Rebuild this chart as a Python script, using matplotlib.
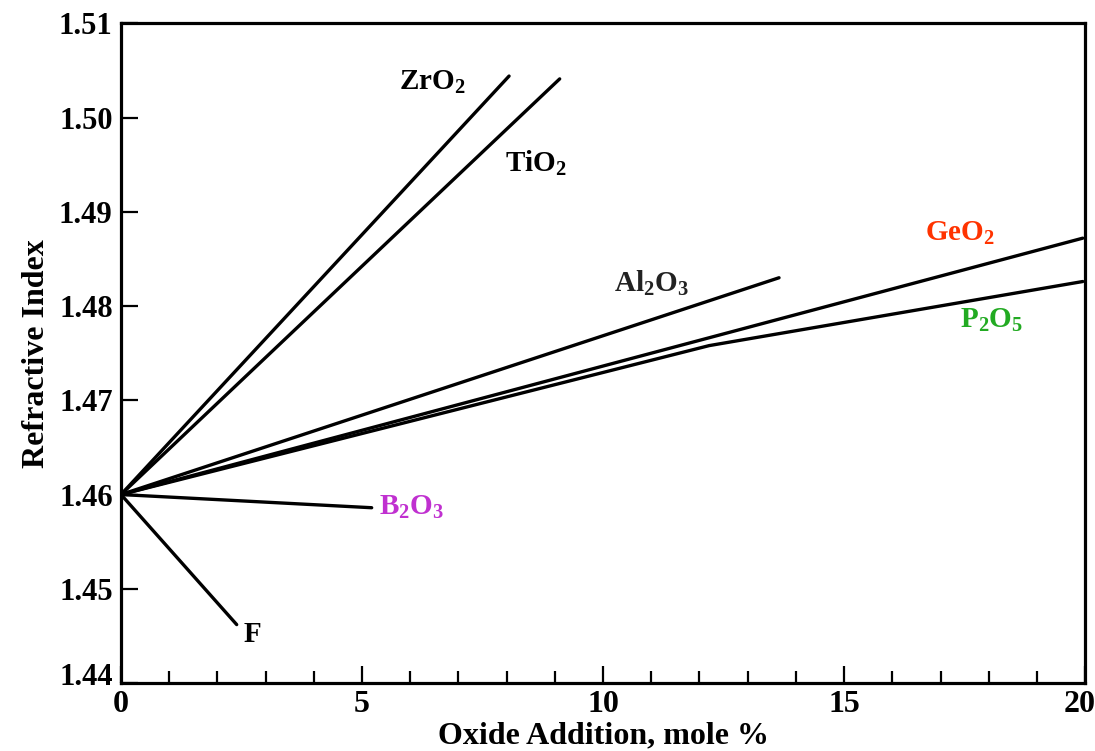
import matplotlib
matplotlib.use("Agg")
import matplotlib.pyplot as plt
import matplotlib.transforms as mtransforms

# Data
series_names = ["ZrO2", "TiO2", "Al2O3", "GeO2", "P2O5", "B2O3", "F"]
zro2_x = [0.0, 8.05]
zro2_y = [1.460, 1.5044]
tio2_x = [0.0, 9.1]
tio2_y = [1.460, 1.5041]
al2o3_x = [0.0, 13.65]
al2o3_y = [1.460, 1.4830]
geo2_x = [0.0, 19.95]
geo2_y = [1.460, 1.4872]
p2o5_x = [0.0, 12.2, 19.95]
p2o5_y = [1.460, 1.4758, 1.4826]
b2o3_x = [0.0, 5.2]
b2o3_y = [1.460, 1.4586]
f_x = [0.0, 2.4]
f_y = [1.460, 1.4462]

y_ticks = [1.44, 1.45, 1.46, 1.47, 1.48, 1.49, 1.50, 1.51]
y_ticklabels = ["1.44", "1.45", "1.46", "1.47", "1.48", "1.49", "1.50", "1.51"]
x_ticks = [0, 5, 10, 15, 20]
x_ticklabels = ["0", "5", "10", "15", "20"]

plt.rcParams["font.family"] = ["Liberation Serif", "DejaVu Serif"]
plt.rcParams["font.weight"] = "bold"
plt.rcParams["mathtext.default"] = "regular"

fig = plt.figure(figsize=(10.95, 7.51), dpi=100)
ax = fig.add_axes([0.1105, 0.0905, 0.8805, 0.8785])

lw = 2.4
for xs, ys in [(zro2_x, zro2_y), (tio2_x, tio2_y), (al2o3_x, al2o3_y),
               (geo2_x, geo2_y), (p2o5_x, p2o5_y), (b2o3_x, b2o3_y), (f_x, f_y)]:
    ax.plot(xs, ys, color="black", lw=lw, solid_capstyle="round")

ax.set_xlim(0, 20)
ax.set_ylim(1.44, 1.51)
ax.set_xticks(x_ticks)
ax.set_xticklabels(x_ticklabels)
ax.set_xticks(range(0, 21), minor=True)
ax.set_yticks(y_ticks)
ax.set_yticklabels(y_ticklabels)

for s in ax.spines.values():
    s.set_linewidth(2.3)
ax.tick_params(axis="y", which="major", direction="in", length=12, width=1.6,
               labelsize=22, pad=6, right=False)
ax.tick_params(axis="x", which="major", direction="in", length=12, width=1.6,
               labelsize=23, pad=5, top=False)
ax.tick_params(axis="x", which="minor", direction="in", length=9, width=1.6, top=False)

# last x label shifted inside like the reference, first y label raised a bit
xl = ax.get_xticklabels()
xl[-1].set_horizontalalignment("right")
xl[-1].set_transform(xl[-1].get_transform() +
                     mtransforms.ScaledTranslation(10 / 100, 0, fig.dpi_scale_trans))
yl = ax.get_yticklabels()
yl[0].set_transform(yl[0].get_transform() +
                    mtransforms.ScaledTranslation(0, 9 / 100, fig.dpi_scale_trans))

ax.set_xlabel("Oxide Addition, mole %", fontsize=23, fontweight="bold", labelpad=2)
ax.set_ylabel("Refractive Index", fontsize=23, fontweight="bold", labelpad=6)

lab_fs = 21
ax.text(6.45, 1.5037, "ZrO$_2$", fontsize=lab_fs, fontweight="bold", color="black",
        ha="center", va="center")
ax.text(8.61, 1.4951, "TiO$_2$", fontsize=lab_fs, fontweight="bold", color="black",
        ha="center", va="center")
ax.text(11.0, 1.4824, "Al$_2$O$_3$", fontsize=lab_fs, fontweight="bold", color="#222222",
        ha="center", va="center")
ax.text(17.4, 1.4877, "GeO$_2$", fontsize=lab_fs, fontweight="bold", color="#ff3300",
        ha="center", va="center")
ax.text(18.05, 1.4785, "P$_2$O$_5$", fontsize=lab_fs, fontweight="bold", color="#22aa22",
        ha="center", va="center")
ax.text(5.35, b2o3_y[-1], "B$_2$O$_3$", fontsize=lab_fs, fontweight="bold", color="#c030d0",
        ha="left", va="center")
ax.text(2.55, f_y[-1] - 0.001, "F", fontsize=lab_fs, fontweight="bold", color="black",
        ha="left", va="center")

fig.savefig("out.png", dpi=100)
